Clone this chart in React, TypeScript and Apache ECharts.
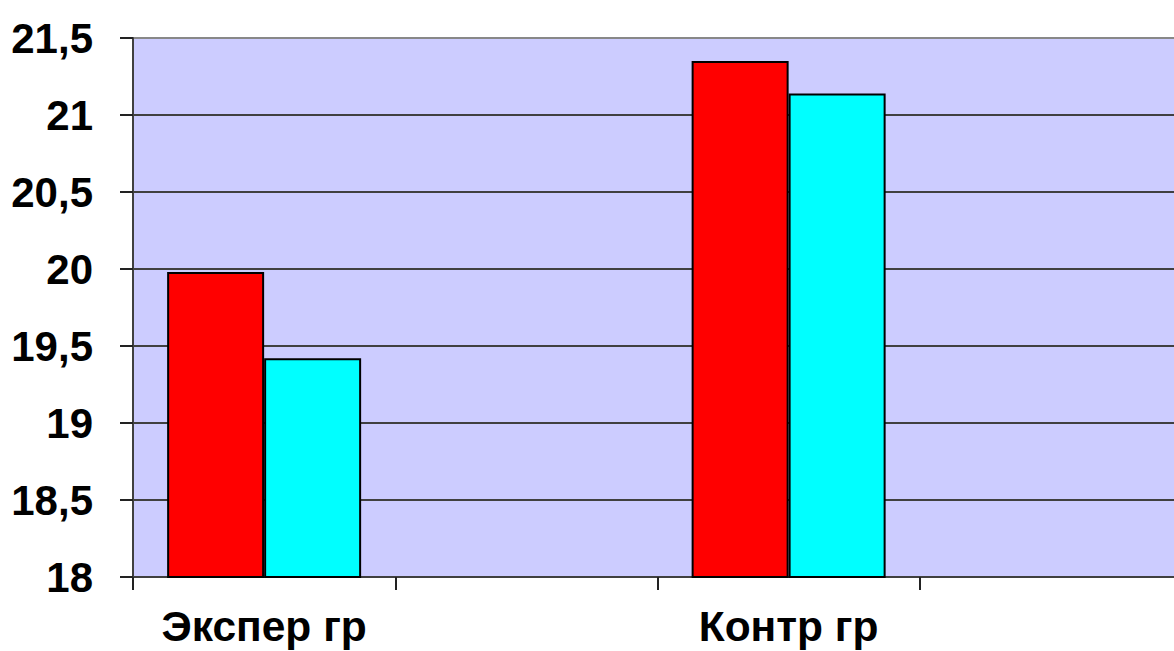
import React, { useEffect, useRef } from "react";
import * as echarts from "echarts";

const categories = ["Экспер гр", "", "Контр гр", ""];
const redValues = [19.98, null, 21.35, null];
const cyanValues = [19.42, null, 21.14, null];
const yMin = 18;
const yMax = 21.5;
const yStep = 0.5;

export default function App() {
  const ref = useRef<HTMLDivElement>(null);
  useEffect(() => {
    if (!ref.current) return;
    const chart = echarts.init(ref.current, null, { renderer: "svg" });
    const font = "'Liberation Sans', Arial, sans-serif";
    chart.setOption({
      animation: false,
      grid: {
        left: 133,
        right: 0,
        top: 38,
        bottom: 74,
        show: true,
        backgroundColor: "#CCCCFF",
        borderWidth: 0,
      },
      xAxis: {
        type: "category",
        data: categories,
        axisLine: { show: true, lineStyle: { color: "#404040", width: 2 } },
        axisTick: { show: true, length: 13, inside: false, alignWithLabel: false, lineStyle: { color: "#222", width: 2 } },
        axisLabel: {
          interval: 0,
          margin: 27,
          lineHeight: 44,
          fontFamily: font,
          fontWeight: "bold",
          fontSize: 42.5,
          color: "#000",
        },
        splitLine: { show: false },
      },
      yAxis: {
        type: "value",
        min: yMin,
        max: yMax,
        interval: yStep,
        axisLine: { show: true, lineStyle: { color: "#404040", width: 2 } },
        axisTick: { show: true, length: 13, lineStyle: { color: "#222", width: 2 } },
        axisLabel: {
          margin: 40,
          fontFamily: font,
          fontWeight: "bold",
          fontSize: 42,
          color: "#000",
          formatter: (v: number) => String(v).replace(".", ","),
        },
        splitLine: {
          show: true,
          lineStyle: {
            color: ["#404040", "#404040", "#404040", "#404040", "#404040", "#404040", "#404040", "#888888"],
            width: 2,
          },
        },
      },
      series: [
        {
          type: "bar",
          data: redValues,
          barWidth: 97,
          barGap: "0%",
          itemStyle: { color: "#FF0000", borderColor: "#000", borderWidth: 2 },
        },
        {
          type: "bar",
          data: cyanValues,
          barWidth: 97,
          barGap: "0%",
          itemStyle: { color: "#00FFFF", borderColor: "#000", borderWidth: 2 },
        },
      ],
    });
    return () => chart.dispose();
  }, []);
  return (
    <div style={{ position: "absolute", left: 0, top: 0, width: 1174, height: 651, overflow: "hidden", background: "#fff" }}>
      <div ref={ref} style={{ width: 1182, height: 651 }} />
    </div>
  );
}
